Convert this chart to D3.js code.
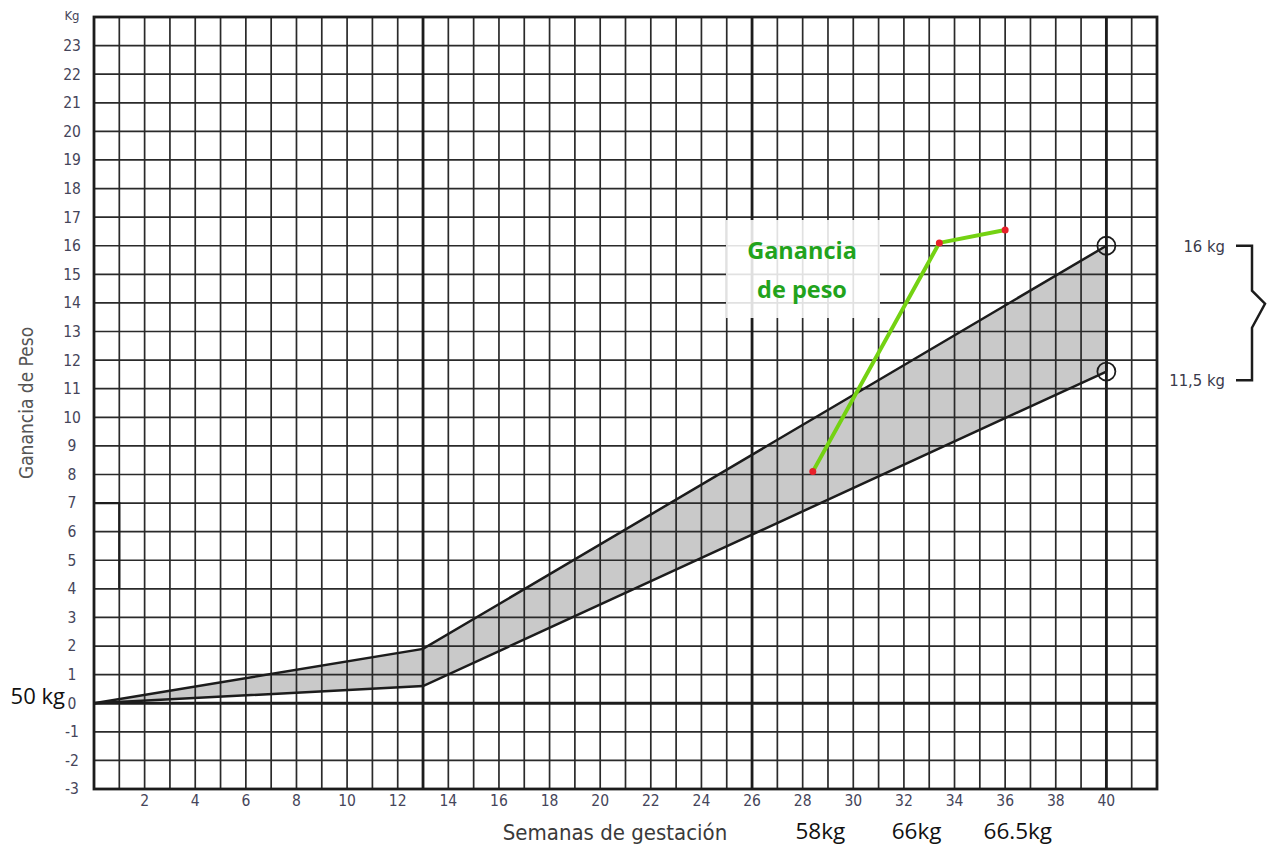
<!DOCTYPE html>
<html>
<head>
<meta charset="utf-8">
<script src="https://cdn.jsdelivr.net/npm/d3@7"></script>
<style>
  body { margin: 0; background: #fff; }
  svg { display: block; }
  .cond { font-family: "Liberation Sans Narrow", "DejaVu Sans Condensed", sans-serif; font-stretch: condensed; }
</style>
</head>
<body>
<div id="chart"></div>
<script>
// tick labels
const weekTicks = [2, 4, 6, 8, 10, 12, 14, 16, 18, 20, 22, 24, 26, 28, 30, 32, 34, 36, 38, 40]
const kgTicks = [-3, -2, -1, 0, 1, 2, 3, 4, 5, 6, 7, 8, 9, 10, 11, 12, 13, 14, 15, 16, 17, 18, 19, 20, 21, 22, 23]
const majorWeeks = [13, 26, 40]

// recommended gain band (week, kg)
const bandUpper = [[0, 0], [13, 1.9], [40, 16]]
const bandLower = [[0, 0], [13, 0.6], [40, 11.6]]
const bandEnds = [16, 11.6]

// bracket on the right (kg positions of the two labels)
const bracketKg = [16, 11.3]
const bracketLabels = ["16 kg", "11,5 kg"]

// patient weight gain
const gainWeeks = [28.4, 33.4, 36.0]
const gainKg = [8.1, 16.1, 16.55]
const weightLabels = ["58kg", "66kg", "66.5kg"]
const weightLabelWeeks = [28.7, 32.5, 36.5]

const width = 1268
const height = 846
const margin = { top: 17, right: 111, bottom: 57, left: 94 }

const svg = d3.select("#chart")
  .append("svg")
  .attr("width", width)
  .attr("height", height)

const x = d3.scaleLinear()
  .domain([0, 42])
  .range([margin.left, width - margin.right])

const y = d3.scaleLinear()
  .domain([-3, 24])
  .range([height - margin.bottom, margin.top])

const line = d3.line()
  .x(d => x(d[0]))
  .y(d => y(d[1]))

// Band fill (under the grid)
const bandPoly = bandUpper.concat(bandLower.slice().reverse())
svg.append("path")
  .attr("d", line(bandPoly) + "Z")
  .attr("fill", "#c9c9c9")

// Grid
const grid = svg.append("g")
grid.selectAll(".vline")
  .data(d3.range(1, 43))
  .enter()
  .append("line")
  .attr("x1", d => x(d))
  .attr("x2", d => x(d))
  .attr("y1", y(-3))
  .attr("y2", y(24))
  .attr("stroke", "#2a2a2a")
  .attr("stroke-width", 1.7)

grid.selectAll(".hline")
  .data(d3.range(-2, 24))
  .enter()
  .append("line")
  .attr("x1", x(0))
  .attr("x2", x(42))
  .attr("y1", d => y(d))
  .attr("y2", d => y(d))
  .attr("stroke", "#2a2a2a")
  .attr("stroke-width", 1.7)

// Heavy lines
grid.selectAll(".major")
  .data(majorWeeks)
  .enter()
  .append("line")
  .attr("x1", d => x(d))
  .attr("x2", d => x(d))
  .attr("y1", y(-3))
  .attr("y2", y(24))
  .attr("stroke", "#1c1c1c")
  .attr("stroke-width", 2.8)

grid.append("line")
  .attr("x1", x(0)).attr("x2", x(42))
  .attr("y1", y(0)).attr("y2", y(0))
  .attr("stroke", "#1c1c1c")
  .attr("stroke-width", 3)

// Small emphasised box at left
grid.append("path")
  .attr("d", line([[0, 7], [1, 7], [1, 4]]))
  .attr("fill", "none")
  .attr("stroke", "#1c1c1c")
  .attr("stroke-width", 2.2)

// Border
svg.append("rect")
  .attr("x", x(0))
  .attr("y", y(24))
  .attr("width", x(42) - x(0))
  .attr("height", y(-3) - y(24))
  .attr("fill", "none")
  .attr("stroke", "#1c1c1c")
  .attr("stroke-width", 2.8)

// Band outline
svg.append("path")
  .attr("d", line(bandUpper))
  .attr("fill", "none")
  .attr("stroke", "#1c1c1c")
  .attr("stroke-width", 2.5)
svg.append("path")
  .attr("d", line(bandLower))
  .attr("fill", "none")
  .attr("stroke", "#1c1c1c")
  .attr("stroke-width", 2.5)
svg.append("line")
  .attr("x1", x(40)).attr("x2", x(40))
  .attr("y1", y(bandEnds[0])).attr("y2", y(bandEnds[1]))
  .attr("stroke", "#1c1c1c")
  .attr("stroke-width", 2.5)

svg.selectAll(".endcircle")
  .data(bandEnds)
  .enter()
  .append("circle")
  .attr("cx", x(40))
  .attr("cy", d => y(d))
  .attr("r", 9)
  .attr("fill", "none")
  .attr("stroke", "#1c1c1c")
  .attr("stroke-width", 1.8)

// Axis tick labels
const tickColor = "#45455a"
svg.selectAll(".ytick")
  .data(kgTicks)
  .enter()
  .append("text")
  .attr("class", "cond")
  .attr("x", 72)
  .attr("y", d => y(d))
  .attr("dy", "0.35em")
  .attr("text-anchor", "middle")
  .attr("font-size", "15.5px")
  .attr("fill", tickColor)
  .text(d => d)

svg.append("text")
  .attr("class", "cond")
  .attr("x", 72)
  .attr("y", 20)
  .attr("text-anchor", "middle")
  .attr("font-size", "13px")
  .attr("fill", tickColor)
  .text("Kg")

svg.selectAll(".xtick")
  .data(weekTicks)
  .enter()
  .append("text")
  .attr("class", "cond")
  .attr("x", d => x(d))
  .attr("y", y(-3) + 17)
  .attr("text-anchor", "middle")
  .attr("font-size", "15.5px")
  .attr("fill", tickColor)
  .text(d => d)

// Axis titles
svg.append("text")
  .attr("class", "cond")
  .attr("transform", `translate(33,${y(10.5)}) rotate(-90)`)
  .attr("text-anchor", "middle")
  .attr("font-size", "19px")
  .attr("fill", "#555")
  .text("Ganancia de Peso")

svg.append("text")
  .attr("class", "cond")
  .attr("x", 615)
  .attr("y", 840)
  .attr("text-anchor", "middle")
  .attr("font-size", "22px")
  .attr("fill", "#3a3a3a")
  .text("Semanas de gestación")

// Label box
svg.append("rect")
  .attr("x", 726)
  .attr("y", 220)
  .attr("width", 154)
  .attr("height", 98)
  .attr("fill", "#fff")
  .attr("fill-opacity", 0.86)

const labelText = svg.append("text")
  .attr("text-anchor", "middle")
  .attr("font-family", "'Open Sans', sans-serif")
  .attr("font-weight", "bold")
  .attr("font-size", "23.5px")
  .attr("fill", "#22a31c")
labelText.append("tspan").attr("x", 802).attr("y", 259).text("Ganancia")
labelText.append("tspan").attr("x", 802).attr("y", 298).text("de peso")

// Patient gain line
const gainData = gainWeeks.map((w, i) => [w, gainKg[i]])
svg.append("path")
  .attr("d", line(gainData))
  .attr("fill", "none")
  .attr("stroke", "#74d212")
  .attr("stroke-width", 4)
  .attr("stroke-linejoin", "round")

svg.selectAll(".gainpt")
  .data(gainData)
  .enter()
  .append("circle")
  .attr("cx", d => x(d[0]))
  .attr("cy", d => y(d[1]))
  .attr("r", 3.5)
  .attr("fill", "#e8202a")

// Weight labels under the axis
svg.selectAll(".wlabel")
  .data(weightLabels)
  .enter()
  .append("text")
  .attr("x", (d, i) => x(weightLabelWeeks[i]))
  .attr("y", 839)
  .attr("text-anchor", "middle")
  .attr("font-family", "'Open Sans', sans-serif")
  .attr("font-size", "22.5px")
  .attr("fill", "#111")
  .text(d => d)

svg.append("text")
  .attr("x", 65)
  .attr("y", y(0) + 1)
  .attr("text-anchor", "end")
  .attr("font-family", "'Open Sans', sans-serif")
  .attr("font-size", "22px")
  .attr("fill", "#111")
  .text("50 kg")

// Right bracket with end values
svg.selectAll(".rlabel")
  .data(bracketKg)
  .enter()
  .append("text")
  .attr("class", "cond")
  .attr("x", 1225)
  .attr("y", d => y(d))
  .attr("dy", "0.35em")
  .attr("text-anchor", "end")
  .attr("font-size", "16.5px")
  .attr("fill", "#3a3a4a")
  .text((d, i) => bracketLabels[i])

const yTop = y(bracketKg[0])
const yBot = y(bracketKg[1])
svg.append("path")
  .attr("d", `M1236,${yTop}H1252V${yTop + 45}L1265,${yTop + 58}L1252,${yTop + 82}V${yBot}H1236`)
  .attr("fill", "none")
  .attr("stroke", "#1c1c1c")
  .attr("stroke-width", 2.5)
</script>
</body>
</html>
